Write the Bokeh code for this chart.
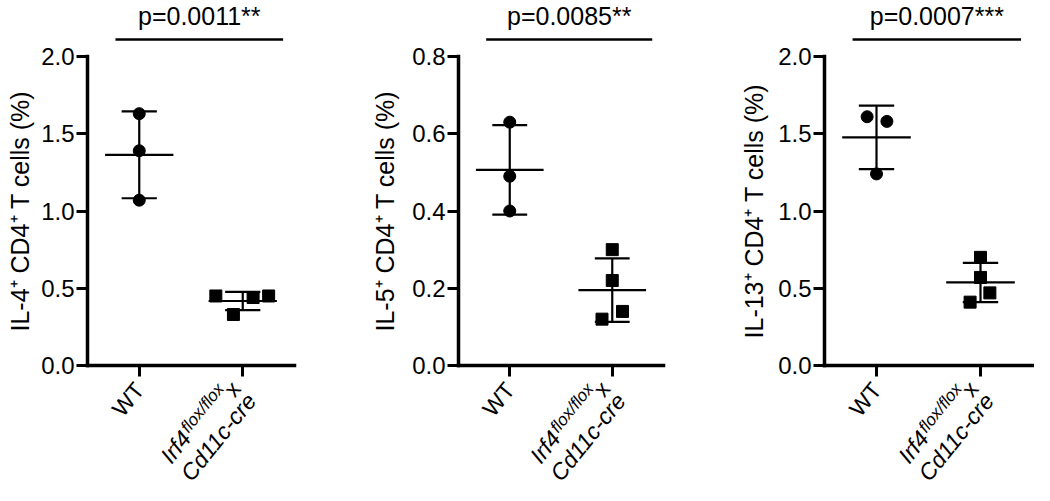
import numpy as np
from bokeh.plotting import figure
from bokeh.layouts import row
from bokeh.models import Range1d, FixedTicker, NumeralTickFormatter
from bokeh.core.properties import value
from bokeh.embed import file_html
from bokeh.resources import INLINE

# ---------------- data ----------------
group_pos = [0.5, 1.5]            # WT, Irf4 flox/flox x Cd11c-cre
wt_label = "WT"
ko_label_main = "Irf4"
ko_label_sup = "flox/flox"
ko_label_tail = "x"
ko_label_line2 = "Cd11c-cre"

il4_wt = [1.63, 1.39, 1.07]
il4_wt_jitter = [0.0, 0.0, 0.0]
il4_ko = [0.45, 0.44, 0.45, 0.33]
il4_ko_jitter = [-0.26, 0.10, 0.25, -0.09]

il5_wt = [0.63, 0.49, 0.40]
il5_wt_jitter = [0.0, 0.0, 0.0]
il5_ko = [0.30, 0.22, 0.14, 0.12]
il5_ko_jitter = [0.0, 0.0, 0.10, -0.10]

il13_wt = [1.61, 1.58, 1.24]
il13_wt_jitter = [-0.09, 0.10, 0.0]
il13_ko = [0.70, 0.57, 0.47, 0.41]
il13_ko_jitter = [0.0, 0.0, 0.09, -0.10]

p_texts = ["p=0.0011**", "p=0.0085**", "p=0.0007***"]
y_labels = ["IL-4\u207a CD4\u207a T cells (%)", "IL-5\u207a CD4\u207a T cells (%)",
            "IL-13\u207a CD4\u207a T cells (%)"]
y_max = [2.0, 0.8, 2.0]
y_ticks = [[0, 0.5, 1.0, 1.5, 2.0], [0, 0.2, 0.4, 0.6, 0.8], [0, 0.5, 1.0, 1.5, 2.0]]

FONT = "Liberation Sans"
H = 485            # canvas height
AX_Y = 365         # canvas px (from top) of y = 0
FRAME_H = 309      # px from 0 to ymax
TEXT_ANGLE = np.deg2rad(51)   # renders at 45 deg on screen


def make_panel(wt, wt_j, ko, ko_j, ymax, ticks, ylabel, ptext, W, ax_x, fw, label_standoff):
    ppx = fw / 2.0
    ppy = FRAME_H / ymax
    p = figure(width=W, height=H, min_border=0, min_border_left=0, min_border_right=0,
               min_border_top=0, min_border_bottom=0,
               x_range=Range1d(-ax_x / ppx, (W - ax_x) / ppx),
               y_range=Range1d(-(H - AX_Y) / ppy, AX_Y / ppy),
               output_backend="svg", toolbar_location=None, tools="")
    p.outline_line_color = None
    p.grid.visible = False

    def to_data(px_dx, px_dy, x0=0.0, y0=0.0):
        # px_dx to the right, px_dy downward (screen px) from data point (x0, y0)
        return x0 + px_dx / ppx, y0 - px_dy / ppy

    # y axis
    ya = p.yaxis[0]
    ya.fixed_location = 0
    ya.bounds = (0, ymax)
    ya.ticker = FixedTicker(ticks=ticks)
    ya.formatter = NumeralTickFormatter(format="0.0")
    ya.axis_line_width = 3.5
    ya.axis_line_cap = "square"
    ya.major_tick_line_width = 3
    ya.major_tick_in = 0
    ya.major_tick_out = 11
    ya.minor_tick_line_color = None
    ya.major_label_text_font = FONT
    ya.major_label_text_font_size = "24px"
    ya.major_label_text_color = "black"
    ya.major_label_standoff = 2
    ya.axis_label = ylabel
    ya.axis_label_text_font = FONT
    ya.axis_label_text_font_style = "normal"
    ya.axis_label_text_font_size = "25px"
    ya.axis_label_text_color = "black"
    ya.axis_label_standoff = label_standoff

    # x axis
    xa = p.xaxis[0]
    xa.fixed_location = 0
    xa.bounds = (0, 2)
    xa.ticker = FixedTicker(ticks=group_pos)
    xa.major_label_overrides = {group_pos[0]: "", group_pos[1]: ""}
    xa.axis_line_width = 3.5
    xa.axis_line_cap = "square"
    xa.major_tick_line_width = 3
    xa.major_tick_in = 0
    xa.major_tick_out = 11
    xa.minor_tick_line_color = None

    # data: mean +/- SD and points
    for pos, vals, jit, marker in [(group_pos[0], wt, wt_j, "circle"),
                                   (group_pos[1], ko, ko_j, "square")]:
        v = np.array(vals)
        m = v.mean()
        sd = v.std(ddof=1)
        p.segment(x0=[pos], y0=[m - sd], x1=[pos], y1=[m + sd], line_color="black", line_width=2.2)
        p.segment(x0=[pos - 0.17, pos - 0.17], y0=[m - sd, m + sd],
                  x1=[pos + 0.17, pos + 0.17], y1=[m - sd, m + sd],
                  line_color="black", line_width=2.2)
        p.segment(x0=[pos - 0.33], y0=[m], x1=[pos + 0.33], y1=[m], line_color="black", line_width=2.2)
        p.scatter(x=list(pos + np.array(jit)), y=vals, marker=marker, size=12,
                  fill_color="black", line_color="black")

    # significance bar + text
    _, by = to_data(0, -17, 0.27, ymax)
    p.segment(x0=[0.27], y0=[by], x1=[1.89], y1=[by], line_color="black", line_width=2.5)
    tx, ty = to_data(0, -41, 1.08, ymax)
    p.text(x=[tx], y=[ty], text=[ptext], text_align="center", text_baseline="middle",
           text_font=value(FONT), text_font_size=value("25px"), text_color="black")

    # rotated group labels (45 deg on screen, reading up-right)
    a = np.pi / 4
    u = np.array([np.cos(a), -np.sin(a)])    # along text, screen (y down)
    n = np.array([-np.sin(a), -np.cos(a)])   # "up" relative to text, screen (y down)

    def put(text, pos, d, size, style):
        x, y = to_data(d[0], d[1], pos, 0.0)
        p.text(x=[x], y=[y], text=[text], angle=TEXT_ANGLE, text_align="right",
               text_baseline="middle", text_font=value(FONT), text_font_size=value(size),
               text_font_style=style, text_color="black")

    put(wt_label, group_pos[0], np.array([0.0, 20.0]), "23px", "normal")
    e1 = np.array([-7.0, 19.0])
    w_tail = 0.5 * 23
    w_sup = 3.39 * 17
    put(ko_label_tail, group_pos[1], e1, "23px", "normal")
    put(ko_label_sup, group_pos[1], e1 - u * w_tail + n * 10, "17px", "italic")
    put(ko_label_main, group_pos[1], e1 - u * (w_tail + w_sup + 1), "23px", "italic")
    put(ko_label_line2, group_pos[1], np.array([8.5, 31.0]), "23px", "italic")
    return p


p1 = make_panel(il4_wt, il4_wt_jitter, il4_ko, il4_ko_jitter, y_max[0], y_ticks[0], y_labels[0],
                p_texts[0], 322, 87, 207, 4)
p2 = make_panel(il5_wt, il5_wt_jitter, il5_ko, il5_ko_jitter, y_max[1], y_ticks[1], y_labels[1],
                p_texts[1], 350, 136, 205, 10)
p3 = make_panel(il13_wt, il13_wt_jitter, il13_ko, il13_ko_jitter, y_max[2], y_ticks[2], y_labels[2],
                p_texts[2], 362, 152, 208, 7)

layout = row(p1, p2, p3)
open("out.html", "w").write(file_html(layout, INLINE))
